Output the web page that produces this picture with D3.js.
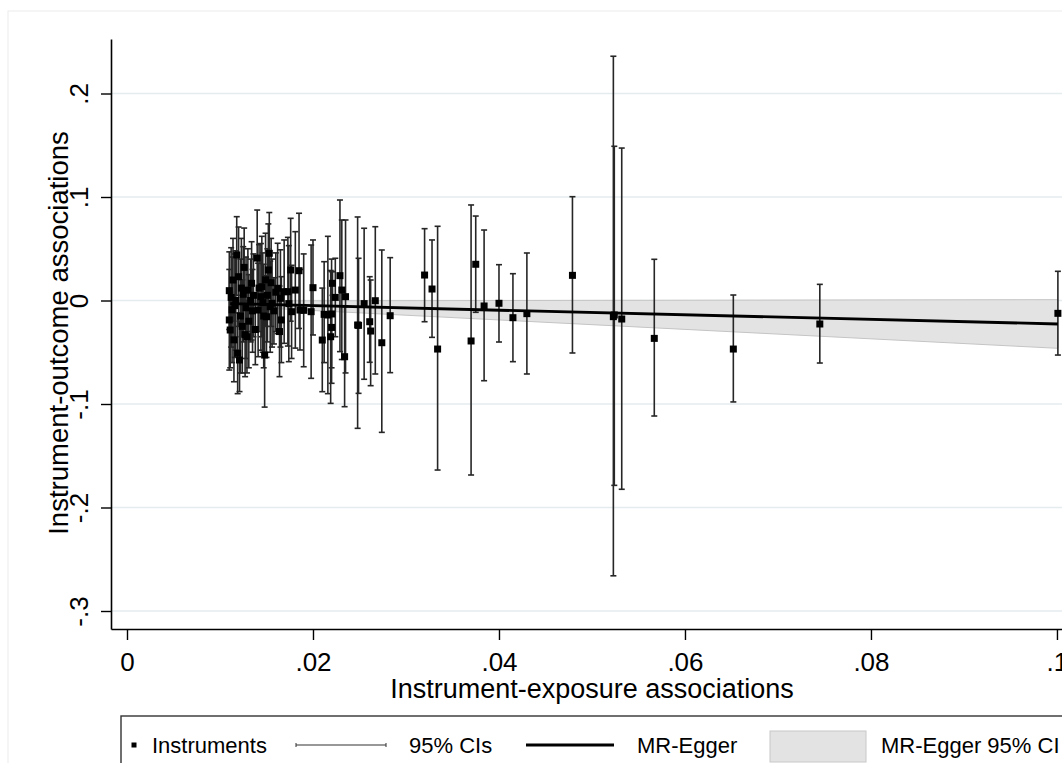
<!DOCTYPE html>
<html><head><meta charset="utf-8">
<script src="https://cdn.jsdelivr.net/npm/d3@7"></script>
<style>
body{margin:0;background:#fff}
svg{display:block}
text{font-family:"Liberation Sans",Arial,sans-serif;fill:#000}
</style>
</head><body>
<svg id="c" width="1062" height="763"></svg>
<script>
// ---- data ----
const exposure = [
0.0110,0.0110,0.0111,0.0112,0.0113,0.0114,0.0115,0.0116,0.0117,0.0118,
0.0119,0.0120,0.0121,0.0122,0.0123,0.0124,0.0125,0.0126,0.0127,0.0128,
0.0129,0.0130,0.0131,0.0133,0.0134,0.0135,0.0136,0.0138,0.0140,0.0141,
0.0142,0.0144,0.0145,0.0146,0.0147,0.0148,0.0149,0.0150,0.0151,0.0152,
0.0153,0.0154,0.0155,0.0156,0.0158,0.0160,0.0162,0.0164,0.0165,0.0166,
0.0169,0.0173,0.0174,0.0176,0.0177,0.0181,0.0185,0.0186,0.0190,0.0198,
0.0200,0.0210,0.0212,0.0216,0.0219,0.0220,0.0220,0.0221,0.0224,0.0229,
0.0231,0.0234,0.0235,0.0248,0.0249,0.0255,0.0261,0.0262,0.0267,0.0274,
0.0283,0.0320,0.0328,0.0334,0.0370,0.0375,0.0384,0.0400,0.0415,0.0430,
0.0479,0.0523,0.0524,0.0532,0.0567,0.0652,0.0745,0.1001];
const outcome = [
0.0095,-0.0188,-0.0285,0.0030,-0.0090,0.0198,-0.0380,-0.0050,0.0000,0.0440,
-0.0510,0.0230,-0.0575,-0.0150,0.0120,-0.0250,0.0060,0.0320,-0.0330,-0.0070,
-0.0350,0.0100,-0.0200,0.0000,0.0166,-0.0100,0.0050,-0.0280,0.0410,-0.0092,
0.0120,0.0037,0.0133,-0.0020,-0.0150,-0.0527,0.0200,-0.0157,0.0050,0.0295,
0.0456,-0.0060,0.0172,-0.0027,-0.0100,0.0080,0.0118,-0.0300,0.0021,-0.0188,
0.0085,0.0085,-0.0030,0.0295,-0.0108,0.0101,0.0288,-0.0092,-0.0095,-0.0108,
0.0124,-0.0382,-0.0134,-0.0140,-0.0350,-0.0260,-0.0130,0.0166,0.0030,0.0240,
0.0101,-0.0543,0.0037,-0.0237,-0.0240,-0.0030,-0.0205,-0.0295,-0.0002,-0.0408,
-0.0147,0.0246,0.0111,-0.0469,-0.0391,0.0350,-0.0053,-0.0027,-0.0166,-0.0127,
0.0243,-0.0156,-0.0140,-0.0179,-0.0366,-0.0469,-0.0227,-0.0124];
const ciLower = [
-0.0280,-0.0672,-0.0650,-0.0450,-0.0600,-0.0200,-0.0785,-0.0550,-0.0480,0.0050,
-0.0900,-0.0250,-0.0880,-0.0700,-0.0350,-0.0700,-0.0400,-0.0050,-0.0736,-0.0560,
-0.0700,-0.0300,-0.0650,-0.0400,-0.0382,-0.0500,-0.0350,-0.0620,-0.0040,-0.0543,
-0.0300,-0.0480,-0.0350,-0.0500,-0.0650,-0.1030,-0.0250,-0.0550,-0.0400,-0.0150,
0.0080,-0.0500,-0.0250,-0.0450,-0.0420,-0.0300,-0.0320,-0.0736,-0.0450,-0.0600,
-0.0414,-0.0440,-0.0591,-0.0200,-0.0560,-0.0460,-0.0270,-0.0478,-0.0640,-0.0752,
-0.0333,-0.0881,-0.0600,-0.0900,-0.0994,-0.0800,-0.0650,0.0050,-0.0350,-0.0494,
-0.0570,-0.1026,-0.0700,-0.1235,-0.0897,-0.0761,-0.0597,-0.0823,-0.0710,-0.1274,
-0.0697,-0.0205,-0.0356,-0.1638,-0.1686,-0.0114,-0.0775,-0.0401,-0.0591,-0.0710,
-0.0507,-0.2660,-0.1786,-0.1824,-0.1116,-0.0980,-0.0604,-0.0527];
const ciUpper = [
0.0470,0.0300,0.0080,0.0510,0.0420,0.0600,0.0020,0.0450,0.0480,0.0810,
-0.0120,0.0710,-0.0200,0.0400,0.0600,0.0200,0.0520,0.0700,0.0080,0.0420,
0.0000,0.0500,0.0250,0.0400,0.0568,0.0300,0.0450,0.0060,0.0874,0.0360,
0.0540,0.0550,0.0620,0.0460,0.0350,-0.0020,0.0650,0.0240,0.0500,0.0740,
0.0850,0.0380,0.0600,0.0400,0.0220,0.0460,0.0553,0.0140,0.0490,0.0230,
0.0585,0.0610,0.0530,0.0794,0.0340,0.0665,0.0843,0.0300,0.0450,0.0536,
0.0585,0.0120,0.0375,0.0620,0.0290,0.0280,0.0400,0.0279,0.0408,0.0971,
0.0778,-0.0060,0.0778,0.0807,0.0408,0.0698,0.0230,0.0198,0.0713,0.0488,
0.0414,0.0694,0.0585,0.0717,0.0923,0.0816,0.0681,0.0346,0.0259,0.0459,
0.1003,0.2360,0.1490,0.1473,0.0398,0.0053,0.0156,0.0282];

const eggerX = [0.0111, 0.1001];
const eggerY = [-0.0030, -0.0227];
const bandX = [0.0111, 0.1001];
const bandLower = [-0.0056, -0.0462];
const bandUpper = [-0.0004, 0.0008];

const xTicks = [0, 0.02, 0.04, 0.06, 0.08, 0.1];
const xTickLabels = ["0", ".02", ".04", ".06", ".08", ".1"];
const yTicks = [-0.3, -0.2, -0.1, 0, 0.1, 0.2];
const yTickLabels = ["-.3", "-.2", "-.1", "0", ".1", ".2"];
const xTitle = "Instrument-exposure associations";
const yTitle = "Instrument-outcome associations";
const legendLabels = ["Instruments", "95% CIs", "MR-Egger", "MR-Egger 95% CI"];

// ---- drawing ----
const svg = d3.select("#c");
const x = d3.scaleLinear().domain([-0.00172, 0.10194]).range([111, 1075]);
const y = d3.scaleLinear().domain([-0.31739, 0.25266]).range([629, 39]);

// faint outer frame
svg.append("rect").attr("x", 8).attr("y", 11).attr("width", 1100).attr("height", 800)
  .attr("fill", "none").attr("stroke", "#ececec").attr("stroke-width", 1);

// gridlines
svg.append("g").selectAll("line").data(yTicks).join("line")
  .attr("x1", 111).attr("x2", 1075)
  .attr("y1", d => y(d)).attr("y2", d => y(d))
  .attr("stroke", "#e4ecee").attr("stroke-width", 1.5);

// band
const bandData = bandX.map((v, i) => ({x: v, lo: bandLower[i], hi: bandUpper[i]}));
svg.append("path").datum(bandData)
  .attr("d", d3.area().x(d => x(d.x)).y0(d => y(d.lo)).y1(d => y(d.hi)))
  .attr("fill", "#e3e3e3").attr("stroke", "#c4c4c4").attr("stroke-width", 1);

const pts = exposure.map((v, i) => ({x: v, y: outcome[i], lo: ciLower[i], hi: ciUpper[i]}));

// error bars
const eb = svg.append("g").attr("stroke", "#262626").attr("stroke-width", 1.6);
eb.selectAll("line.v").data(pts).join("line").attr("class", "v")
  .attr("x1", d => x(d.x)).attr("x2", d => x(d.x))
  .attr("y1", d => y(d.lo)).attr("y2", d => y(d.hi));
eb.selectAll("line.t").data(pts).join("line").attr("class", "t")
  .attr("x1", d => x(d.x) - 3).attr("x2", d => x(d.x) + 3)
  .attr("y1", d => y(d.hi)).attr("y2", d => y(d.hi));
eb.selectAll("line.b").data(pts).join("line").attr("class", "b")
  .attr("x1", d => x(d.x) - 3).attr("x2", d => x(d.x) + 3)
  .attr("y1", d => y(d.lo)).attr("y2", d => y(d.lo));

// egger line
const eggerData = eggerX.map((v, i) => ({x: v, y: eggerY[i]}));
svg.append("path").datum(eggerData)
  .attr("d", d3.line().x(d => x(d.x)).y(d => y(d.y)))
  .attr("fill", "none").attr("stroke", "#000").attr("stroke-width", 2.8);

// points
svg.append("g").selectAll("rect").data(pts).join("rect")
  .attr("x", d => x(d.x) - 3.5).attr("y", d => y(d.y) - 3.5)
  .attr("width", 7).attr("height", 7).attr("fill", "#000");

// axes
const yAxis = svg.append("g").attr("transform", "translate(111,0)")
  .call(d3.axisLeft(y).tickValues(yTicks).tickSize(10).tickSizeOuter(0).tickFormat((d, i) => yTickLabels[i]));
yAxis.select(".domain").attr("stroke", "#000").attr("stroke-width", 1.6);
yAxis.selectAll(".tick line").attr("stroke", "#000").attr("stroke-width", 1.4);
yAxis.selectAll(".tick text")
  .attr("x", null).attr("dy", null)
  .attr("transform", "translate(-23,0) rotate(-90)")
  .attr("text-anchor", "middle")
  .style("font-size", "26px").style("font-family", "'Liberation Sans',Arial,sans-serif");

const xAxis = svg.append("g").attr("transform", "translate(0,629)")
  .call(d3.axisBottom(x).tickValues(xTicks).tickSize(11).tickSizeOuter(0).tickFormat((d, i) => xTickLabels[i]));
xAxis.select(".domain").attr("stroke", "#000").attr("stroke-width", 1.6);
xAxis.selectAll(".tick line").attr("stroke", "#000").attr("stroke-width", 1.4);
xAxis.selectAll(".tick text")
  .attr("y", 42).attr("dy", null)
  .style("font-size", "26px").style("font-family", "'Liberation Sans',Arial,sans-serif");

// titles
svg.append("text").attr("x", 592).attr("y", 698).attr("text-anchor", "middle")
  .style("font-size", "27px").text(xTitle);
svg.append("text").attr("transform", "translate(68,333) rotate(-90)").attr("text-anchor", "middle")
  .style("font-size", "27.5px").text(yTitle);

// legend
const lg = svg.append("g");
lg.append("rect").attr("x", 121).attr("y", 716).attr("width", 1000).attr("height", 100)
  .attr("fill", "#fff").attr("stroke", "#333").attr("stroke-width", 1.4);
const ly = 745;
lg.append("rect").attr("x", 131.5).attr("y", ly - 2.5).attr("width", 5).attr("height", 5).attr("fill", "#000");
lg.append("line").attr("x1", 296).attr("x2", 386).attr("y1", ly).attr("y2", ly).attr("stroke", "#333").attr("stroke-width", 1.1);
lg.append("line").attr("x1", 296).attr("x2", 296).attr("y1", ly - 2).attr("y2", ly + 2).attr("stroke", "#333").attr("stroke-width", 1);
lg.append("line").attr("x1", 386).attr("x2", 386).attr("y1", ly - 2).attr("y2", ly + 2).attr("stroke", "#333").attr("stroke-width", 1);
lg.append("line").attr("x1", 526).attr("x2", 614).attr("y1", ly).attr("y2", ly).attr("stroke", "#000").attr("stroke-width", 2.8);
lg.append("rect").attr("x", 770).attr("y", 731).attr("width", 96).attr("height", 31)
  .attr("fill", "#e3e3e3").attr("stroke", "#c8c8c8").attr("stroke-width", 1);
const lx = [152, 409, 637, 881];
lg.selectAll("text").data(legendLabels).join("text")
  .attr("x", (d, i) => lx[i]).attr("y", ly + 8)
  .style("font-size", "22px").text(d => d);
</script>
</body></html>
